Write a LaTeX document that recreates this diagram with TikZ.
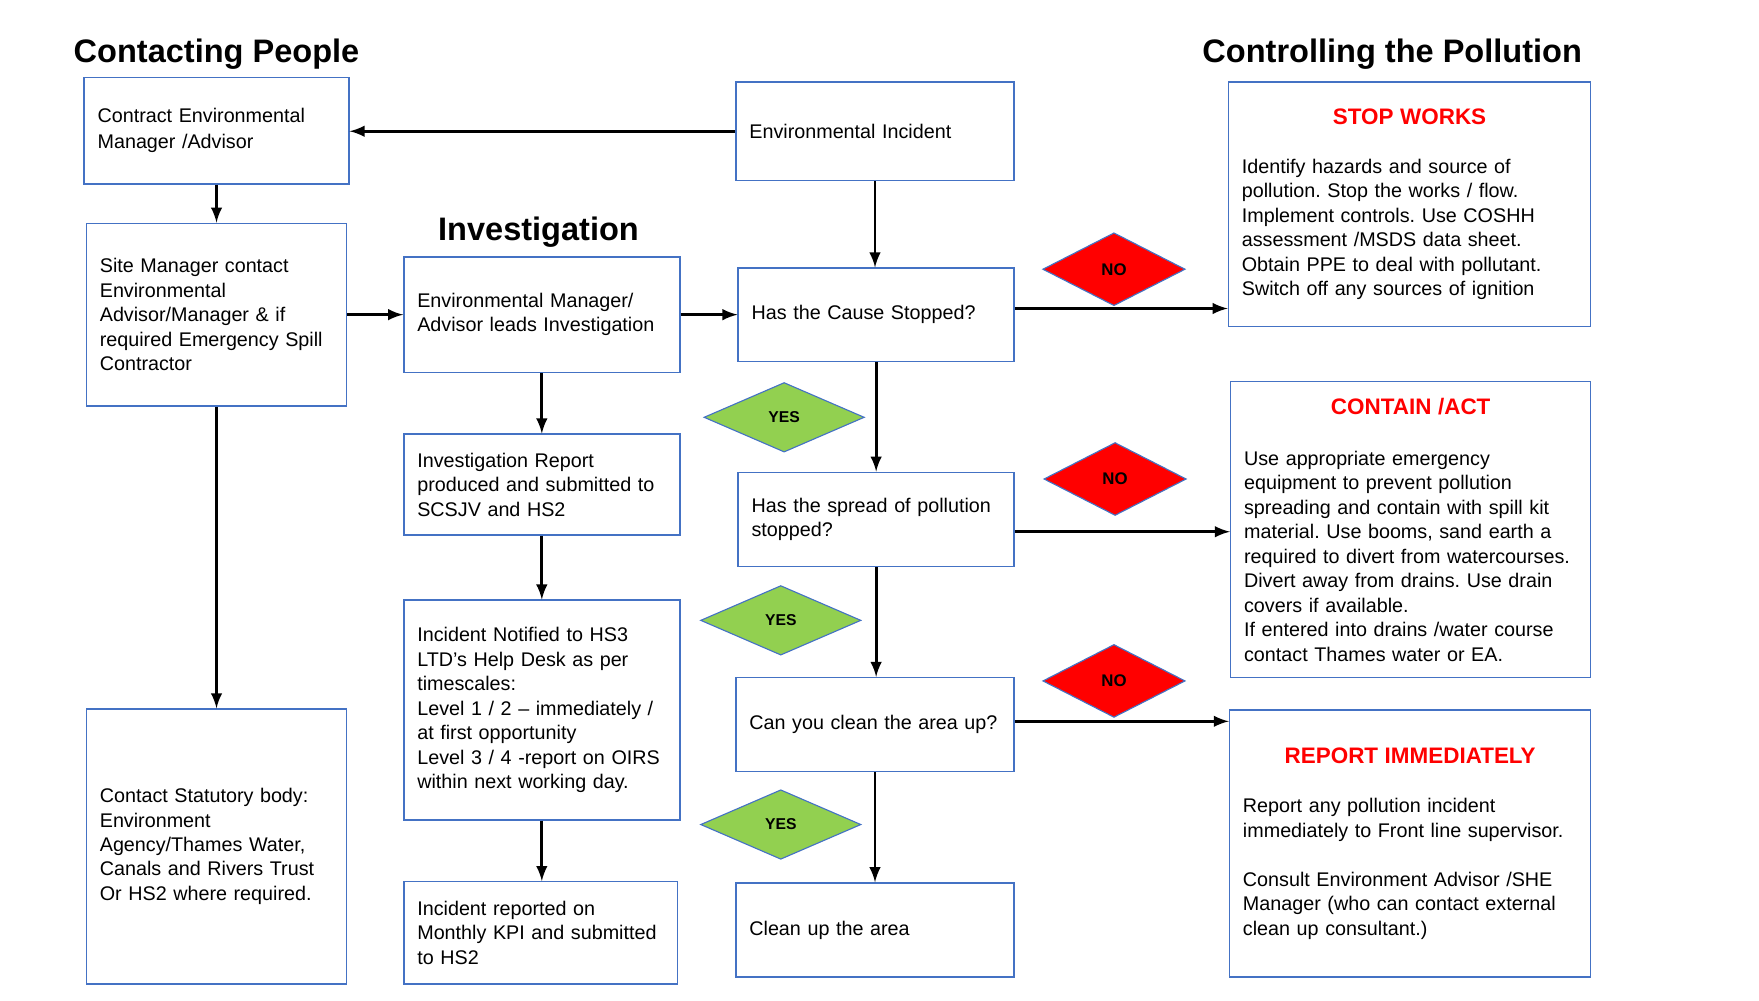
\documentclass[tikz,border=0pt]{standalone}
\usepackage{fontspec}
\setmainfont{Liberation Sans}
\frenchspacing
\usepackage{tikz}
\usetikzlibrary{arrows,shapes,positioning}
\usepackage{xcolor}
\definecolor{pfblue}{RGB}{68,114,196}
\definecolor{pfgreen}{RGB}{146,208,80}
\definecolor{pfred}{RGB}{255,0,0}
\tikzstyle{link} = [line width=1.3pt,->,>=latex]
\tikzstyle{stepbox} = [rectangle, draw=pfblue, line width=0.6pt, align=left, inner xsep=6pt, inner ysep=0pt, font=\fontsize{8.8}{10.9}\selectfont]
\tikzstyle{nobox} = [diamond, draw=pfblue, fill=pfred, line width=0.5pt, inner sep=0pt, minimum width=63.5pt, minimum height=32.5pt, font=\fontsize{7.5}{8}\selectfont\bfseries]
\tikzstyle{yesbox} = [diamond, draw=pfblue, fill=pfgreen, line width=0.5pt, inner sep=0pt, minimum width=71.5pt, minimum height=31pt, font=\fontsize{7}{8}\selectfont\bfseries]
\tikzstyle{sectiontitle} = [font=\fontsize{14.5}{17}\selectfont\bfseries]
\newcommand{\panelhead}[1]{\makebox[\hsize]{\fontsize{10}{12}\selectfont\bfseries\color{pfred}#1}}

\begin{document}
\begin{tikzpicture}[x=0.5pt, y=-0.5pt]
\useasboundingbox (0,0) rectangle (1568,892);

% Titles
\node (ttlpeople) [sectiontitle] at (193,48) {Contacting People};
\node (ttlinv) [sectiontitle] at (480,207) {Investigation};
\node (ttlpoll) [sectiontitle] at (1241,48) {Controlling the Pollution};

% Contacting people column
\node (contract) [stepbox, minimum width=118pt, minimum height=47.5pt, text width=106pt] at (193,116.5) {Contract Environmental\\[0.8pt]Manager /Advisor};
\node (sitemgr) [stepbox, minimum width=116pt, minimum height=81.5pt, text width=104pt] at (193,280.5) {Site Manager contact\\Environmental\\Advisor/Manager \& if\\required Emergency Spill\\Contractor};
\node (statutory) [stepbox, minimum width=116pt, minimum height=122.5pt, text width=104pt] at (193,754.5) {Contact Statutory body:\\Environment\\Agency/Thames Water,\\Canals and Rivers Trust\\Or HS2 where required.};

% Investigation column
\node (envmgr) [stepbox, minimum width=123pt, minimum height=51.5pt, text width=111pt] at (483,280.5) {Environmental Manager/\\Advisor leads Investigation};
\node (report) [stepbox, minimum width=123pt, minimum height=45pt, text width=111pt] at (483,432) {Investigation Report\\produced and submitted to\\SCSJV and HS2};
\node (notified) [stepbox, minimum width=123pt, minimum height=98pt, text width=111pt] at (483,633) {Incident Notified to HS3\\LTD’s Help Desk as per\\timescales:\\Level 1 / 2 – immediately /\\at first opportunity\\Level 3 / 4 -report on OIRS\\within next working day.};
\node (kpi) [stepbox, minimum width=122pt, minimum height=45.5pt, text width=110pt] at (482,831.5) {Incident reported on\\Monthly KPI and submitted\\to HS2};

% Decision column
\node (incident) [stepbox, minimum width=124pt, minimum height=44pt, text width=112pt] at (780,117) {Environmental Incident};
\node (cause) [stepbox, minimum width=123pt, minimum height=41.5pt, text width=111pt] at (781,280.5) {Has the Cause Stopped?};
\node (spread) [stepbox, minimum width=123pt, minimum height=42pt, text width=111pt] at (781,463) {Has the spread of pollution\\stopped?};
\node (cleanq) [stepbox, minimum width=124pt, minimum height=42pt, text width=112pt] at (780,646) {Can you clean the area up?};
\node (cleanup) [stepbox, minimum width=124pt, minimum height=42pt, text width=112pt] at (780,829) {Clean up the area};

% Yes / no diamonds
\node (yes1) [yesbox] at (699,372) {YES};
\node (yes2) [yesbox] at (696,553) {YES};
\node (yes3) [yesbox] at (696,735) {YES};
\node (no1) [nobox] at (993,240) {NO};
\node (no2) [nobox] at (994,427) {NO};
\node (no3) [nobox] at (993,607) {NO};

% Controlling the pollution
\node (stop) [stepbox, minimum width=161.5pt, minimum height=109pt, text width=149.5pt] at (1256.5,182) {\panelhead{STOP WORKS}\\[11pt]Identify hazards and source of\\pollution. Stop the works / flow.\\Implement controls. Use COSHH\\assessment /MSDS data sheet.\\Obtain PPE to deal with pollutant.\\Switch off any sources of ignition};
\node (contain) [stepbox, minimum width=160.5pt, minimum height=132pt, text width=148.5pt] at (1257.5,472) {\panelhead{CONTAIN /ACT}\\[12pt]Use appropriate emergency\\equipment to prevent pollution\\spreading and contain with spill kit\\material. Use booms, sand earth a\\required to divert from watercourses.\\Divert away from drains. Use drain\\covers if available.\\If entered into drains /water course\\contact Thames water or EA.};
\node (immediate) [stepbox, minimum width=161pt, minimum height=119pt, text width=149pt] at (1257,752) {\panelhead{REPORT IMMEDIATELY}\\[11pt]Report any pollution incident\\immediately to Front line supervisor.\\[11pt]Consult Environment Advisor /SHE\\Manager (who can contact external\\clean up consultant.)};

% Arrows
\draw[link] (incident.west) -- (incident.west -| contract.east);
\draw[link] (contract.south) -- (sitemgr.north);
\draw[link] (sitemgr.south) -- (statutory.north);
\draw[link] (sitemgr.east) -- (envmgr.west);
\draw[link] (envmgr.east) -- (envmgr.east -| cause.west);
\draw[link] (envmgr.south) -- (report.north);
\draw[link] (report.south) -- (notified.north);
\draw[link] (notified.south) -- (notified.south |- kpi.north);
\draw[link] (incident.south) -- (incident.south |- cause.north);
\draw[link] (cause.south) -- (spread.north);
\draw[link] (spread.south) -- (spread.south |- cleanq.north);
\draw[link] (cleanq.south) -- (cleanq.south |- cleanup.north);
\draw[link] ([yshift=2.75pt]cause.east) -- ([yshift=2.75pt]cause.east -| stop.west);
\draw[link] ([yshift=-5.5pt]spread.east) -- ([yshift=-5.5pt]spread.east -| contain.west);
\draw[link] ([yshift=1.5pt]cleanq.east) -- ([yshift=1.5pt]cleanq.east -| immediate.west);

\end{tikzpicture}
\end{document}
